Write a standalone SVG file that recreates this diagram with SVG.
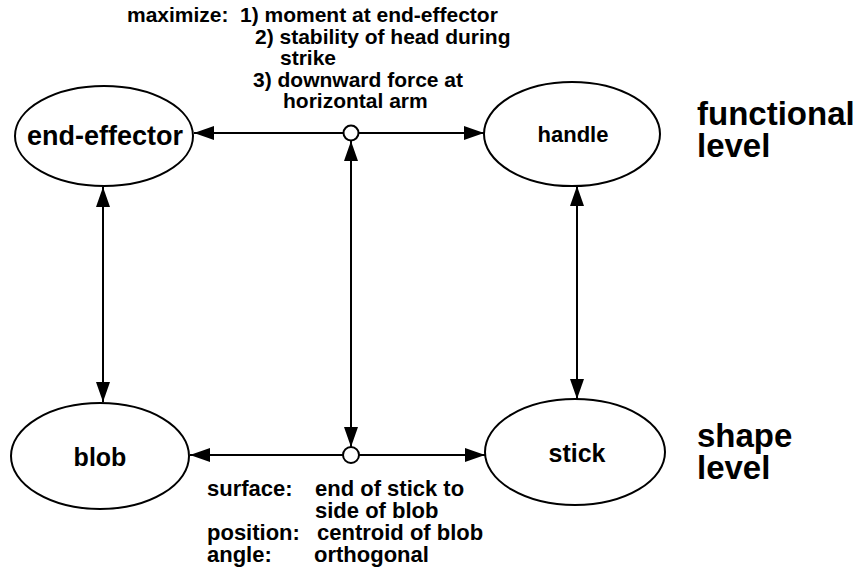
<svg xmlns="http://www.w3.org/2000/svg" width="864" height="569" viewBox="0 0 864 569">
<style>
  .node { fill: #ffffff; stroke: #000000; stroke-width: 2; }
  .lbl { font-family: "Liberation Sans", Arial, sans-serif; font-weight: bold; fill: #000000; }
  .edge { stroke: #000000; stroke-width: 2; fill: none; }
  .junc { fill: #ffffff; stroke: #000000; stroke-width: 2; }
</style>
<defs>
  <marker id="arr" viewBox="0 0 20 14" refX="20" refY="7" markerWidth="20" markerHeight="14" markerUnits="userSpaceOnUse" orient="auto">
    <path d="M0,0 L20,7 L0,14 Z" fill="#000000"/>
  </marker>
</defs>
<g id="connectors">
  <line class="edge" x1="344" y1="133" x2="194" y2="133" marker-end="url(#arr)"/>
  <line class="edge" x1="359" y1="133" x2="484" y2="133" marker-end="url(#arr)"/>
  <line class="edge" x1="343" y1="455" x2="190" y2="455" marker-end="url(#arr)"/>
  <line class="edge" x1="359" y1="455" x2="485" y2="455" marker-end="url(#arr)"/>
  <line class="edge" x1="351" y1="300" x2="351" y2="141" marker-end="url(#arr)"/>
  <line class="edge" x1="351" y1="300" x2="351" y2="447" marker-end="url(#arr)"/>
  <line class="edge" x1="103" y1="300" x2="103" y2="187" marker-end="url(#arr)"/>
  <line class="edge" x1="103" y1="300" x2="103" y2="402" marker-end="url(#arr)"/>
  <line class="edge" x1="577" y1="300" x2="577" y2="186" marker-end="url(#arr)"/>
  <line class="edge" x1="577" y1="300" x2="577" y2="399" marker-end="url(#arr)"/>
  <circle class="junc" cx="351" cy="133" r="7.5"/>
  <circle class="junc" cx="351" cy="455" r="8"/>
</g>
<g id="end-effector">
  <ellipse class="node" cx="104" cy="136" rx="89" ry="50"/>
  <text class="lbl" x="105" y="145" font-size="27" text-anchor="middle">end-effector</text>
</g>
<g id="handle">
  <ellipse class="node" cx="572" cy="134" rx="88" ry="52"/>
  <text class="lbl" x="573" y="142" font-size="22" text-anchor="middle">handle</text>
</g>
<g id="blob">
  <ellipse class="node" cx="100" cy="456" rx="89" ry="53"/>
  <text class="lbl" x="100" y="466" font-size="25" text-anchor="middle">blob</text>
</g>
<g id="stick">
  <ellipse class="node" cx="575" cy="452" rx="90" ry="53"/>
  <text class="lbl" x="577" y="462" font-size="25" text-anchor="middle">stick</text>
</g>
<g id="level-labels" class="lbl" font-size="33">
  <text x="697" y="125">functional</text>
  <text x="697" y="157">level</text>
  <text x="697" y="447">shape</text>
  <text x="697" y="479">level</text>
</g>
<g id="top-note" class="lbl" font-size="21">
  <text x="127" y="22">maximize:</text>
  <text x="240" y="22">1) moment at end-effector</text>
  <text x="255" y="44">2) stability of head during</text>
  <text x="280" y="65">strike</text>
  <text x="253" y="87">3) downward force at</text>
  <text x="283" y="108">horizontal arm</text>
</g>
<g id="bottom-note" class="lbl" font-size="22">
  <text x="207" y="496">surface:</text>
  <text x="315" y="496">end of stick to</text>
  <text x="315" y="518">side of blob</text>
  <text x="207" y="540">position:</text>
  <text x="317" y="540">centroid of blob</text>
  <text x="207" y="562">angle:</text>
  <text x="314" y="562">orthogonal</text>
</g>
</svg>
